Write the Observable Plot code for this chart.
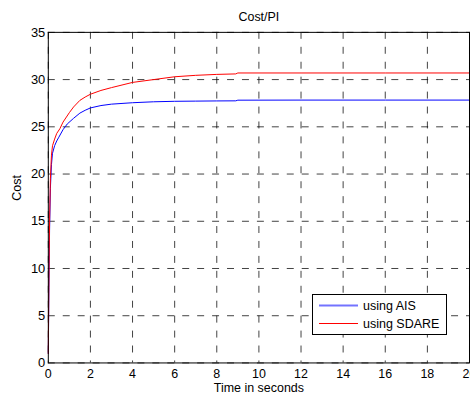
<!DOCTYPE html>
<html>
<head>
<meta charset="utf-8">
<script src="https://cdn.jsdelivr.net/npm/d3@7"></script>
<script src="https://cdn.jsdelivr.net/npm/@observablehq/plot@0.6"></script>
<style>
html, body { margin: 0; padding: 0; background: #fff; overflow: hidden; }
#wrap { position: relative; width: 470px; height: 396px; overflow: hidden; font-family: "Liberation Sans", Arial, sans-serif; }
#legend { position: absolute; left: 312px; top: 294px; }
</style>
</head>
<body>
<div id="wrap"></div>
<script>
// Time samples (seconds)
const timeAIS   = [0, 0.03, 0.06, 0.1, 0.15, 0.2, 0.3, 0.4, 0.5, 0.7, 0.9, 1.2, 1.5, 1.75, 2, 2.5, 3, 4, 5, 6, 7, 8, 8.9, 9.0, 12, 16, 20];
const costAIS   = [1, 8, 14, 18.5, 21, 22.2, 23.0, 23.5, 23.9, 24.7, 25.3, 25.9, 26.45, 26.75, 27.0, 27.25, 27.4, 27.55, 27.65, 27.7, 27.72, 27.74, 27.75, 27.82, 27.83, 27.83, 27.83];
const timeSDARE = [0, 0.03, 0.06, 0.1, 0.15, 0.2, 0.3, 0.4, 0.55, 0.7, 1.0, 1.2, 1.5, 1.75, 2, 2.5, 3, 4, 5, 6, 7, 8, 8.9, 9.0, 12, 16, 20];
const costSDARE = [1, 9, 15, 19.5, 22, 23, 23.7, 24.3, 24.8, 25.5, 26.5, 27.1, 27.8, 28.15, 28.45, 28.85, 29.15, 29.7, 30.0, 30.3, 30.45, 30.55, 30.6, 30.7, 30.7, 30.7, 30.7];
const seriesNames  = ["using AIS", "using SDARE"];
const seriesColors = ["#0000ff", "#ff0000"];
const xTicks = [0, 2, 4, 6, 8, 10, 12, 14, 16, 18, 20];
const yTicks = [0, 5, 10, 15, 20, 25, 30, 35];
const titleText = "Cost/PI";
const xLabel = "Time in seconds";
const yLabel = "Cost";

const rows = [
  ...timeAIS.map((t, i) => ({t, v: costAIS[i], s: seriesNames[0]})),
  ...timeSDARE.map((t, i) => ({t, v: costSDARE[i], s: seriesNames[1]}))
];

const chart = Plot.plot({
  width: 472,
  height: 396,
  marginLeft: 48,
  marginRight: 1,
  marginTop: 32,
  marginBottom: 32,
  style: {fontFamily: '"Liberation Sans", Arial, sans-serif', fontSize: "13px", background: "white", color: "black"},
  x: {domain: [0, 20], ticks: xTicks},
  y: {domain: [0, 35], ticks: yTicks},
  color: {domain: seriesNames, range: seriesColors},
  marks: [
    Plot.gridX(xTicks, {stroke: "black", strokeOpacity: 0.75, strokeDasharray: "7,8"}),
    Plot.gridY(yTicks, {stroke: "black", strokeOpacity: 0.75, strokeDasharray: "7,8"}),
    Plot.line(rows, {x: "t", y: "v", z: "s", stroke: "s", strokeWidth: 1}),
    Plot.frame({stroke: "black", strokeWidth: 1}),
    Plot.axisX(xTicks, {tickSize: 0, tickPadding: 6, label: null, fontSize: 12.5}),
    Plot.axisY(yTicks, {tickSize: 0, tickPadding: 3, label: null, fontSize: 13}),
    Plot.text([titleText], {frameAnchor: "top", dy: -20, fontSize: 12.5}),
    Plot.text([xLabel], {frameAnchor: "bottom", dy: 29, fontSize: 12.5}),
    Plot.text([yLabel], {frameAnchor: "left", dx: -31, dy: 3, rotate: -90, fontSize: 12.5})
  ]
});
const wrap = document.getElementById("wrap");
wrap.appendChild(chart);

// Legend (drawn from series arrays)
const ns = "http://www.w3.org/2000/svg";
const leg = document.createElementNS(ns, "svg");
leg.setAttribute("id", "legend");
leg.setAttribute("width", 136);
leg.setAttribute("height", 42);
const box = document.createElementNS(ns, "rect");
box.setAttribute("x", 0.5); box.setAttribute("y", 0.5);
box.setAttribute("width", 134); box.setAttribute("height", 40);
box.setAttribute("fill", "white"); box.setAttribute("stroke", "black");
leg.appendChild(box);
seriesNames.forEach((name, i) => {
  const y = 11.5 + i * 18;
  const ln = document.createElementNS(ns, "line");
  ln.setAttribute("x1", 7); ln.setAttribute("x2", 46);
  ln.setAttribute("y1", y); ln.setAttribute("y2", y);
  ln.setAttribute("stroke", seriesColors[i]);
  ln.setAttribute("stroke-width", i === 0 ? 2 : 1);
  if (i === 0) ln.setAttribute("stroke-opacity", 0.55);
  leg.appendChild(ln);
  const tx = document.createElementNS(ns, "text");
  tx.setAttribute("x", 51); tx.setAttribute("y", y + 4.5);
  tx.setAttribute("font-size", "12.5px");
  tx.setAttribute("font-family", '"Liberation Sans", Arial, sans-serif');
  tx.textContent = name;
  leg.appendChild(tx);
});
wrap.appendChild(leg);
</script>
</body>
</html>
